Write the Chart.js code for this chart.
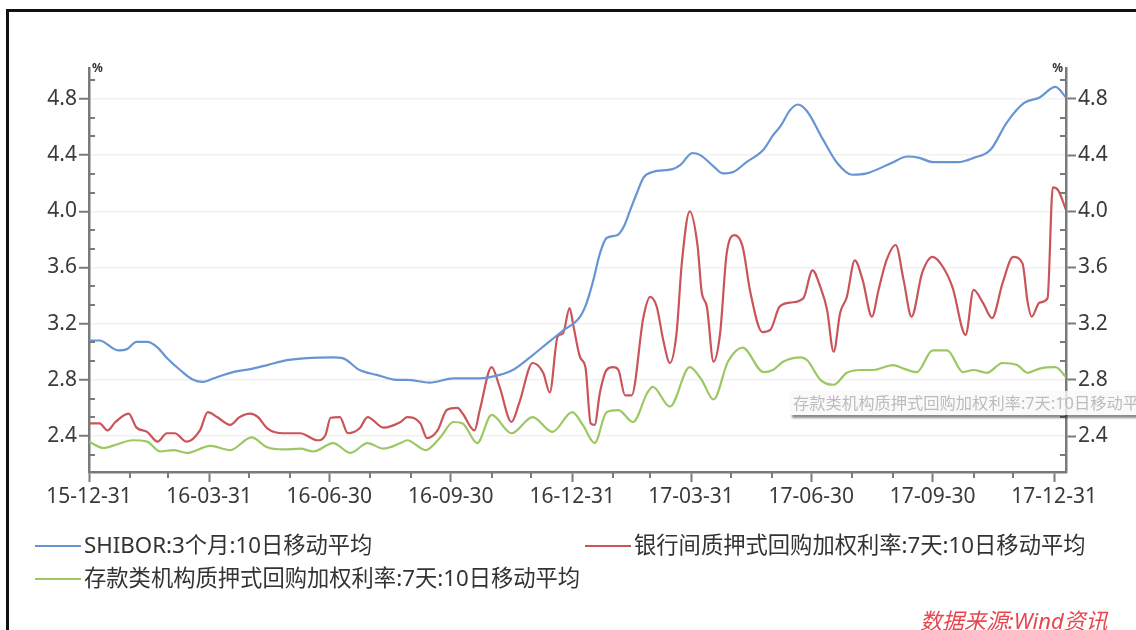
<!DOCTYPE html>
<html><head><meta charset="utf-8">
<script src="https://cdn.jsdelivr.net/npm/chart.js@4"></script>
<style>
html,body{margin:0;padding:0;background:#fff;width:1136px;height:630px;overflow:hidden;font-family:"Noto Sans","Noto Sans CJK SC",sans-serif;}
#wrap{position:relative;width:1136px;height:630px;overflow:hidden;}
#frame{position:absolute;left:6px;top:9px;width:1300px;height:800px;border:3px solid #111;box-sizing:border-box;}
#c{position:absolute;left:0;top:0;}
.leg{position:absolute;font-size:22.3px;color:#333;white-space:nowrap;height:26px;line-height:26px;}
.leg i{display:inline-block;width:46px;height:0;border-top:2.5px solid;vertical-align:middle;margin-right:3px;position:relative;top:-1px;}
#tip{position:absolute;left:790px;top:391px;width:400px;height:24px;background:rgba(249,249,249,0.8);box-shadow:2px 3px 2px rgba(0,0,0,0.45);font-size:16.3px;color:#bcbcbc;line-height:24px;padding-left:3px;white-space:nowrap;}
#src{position:absolute;left:920px;top:603px;font-size:22px;font-style:italic;color:#e8464e;white-space:nowrap;}
</style></head>
<body><div id="wrap"><div id="frame"></div><canvas id="c" width="1136" height="630"></canvas><div id="tip">存款类机构质押式回购加权利率:7天:10日移动平均</div><div id="src">数据来源:Wind资讯</div></div>
<script>
const tickLabels = ['15-12-31','16-03-31','16-06-30','16-09-30','16-12-31','17-03-31','17-06-30','17-09-30','17-12-31'];
const yTicks = [2.4,2.8,3.2,3.6,4.0,4.4,4.8];
const seriesNames = ['SHIBOR:3个月:10日移动平均','银行间质押式回购加权利率:7天:10日移动平均','存款类机构质押式回购加权利率:7天:10日移动平均'];
const seriesColors = ['#6795d4','#c9545a','#9cc864'];

// x = days since 2015-12-31
const shiborDays = [0,8,22,29,36,44,52,59,69,79,86,94,109,124,135,150,165,185,192,205,218,233,241,258,276,296,311,321,334,347,359,372,377,382,387,392,400,405,410,415,420,427,442,448,457,463,473,480,488,498,511,518,524,531,537,544,556,567,578,589,607,620,629,639,658,670,683,695,708,720,732,740];
const shiborValues = [3.08,3.08,3.01,3.02,3.07,3.07,3.03,2.955,2.87,2.80,2.785,2.81,2.855,2.88,2.905,2.94,2.955,2.96,2.955,2.87,2.835,2.80,2.80,2.78,2.81,2.81,2.835,2.87,2.96,3.06,3.15,3.25,3.35,3.51,3.70,3.81,3.83,3.89,4.01,4.13,4.24,4.28,4.30,4.33,4.415,4.40,4.32,4.27,4.28,4.35,4.44,4.54,4.61,4.72,4.76,4.71,4.51,4.34,4.26,4.27,4.34,4.39,4.38,4.35,4.35,4.38,4.44,4.63,4.77,4.81,4.885,4.81];

const repoDays = [0,8,14,20,30,36,44,52,59,65,74,84,90,97,107,114,122,128,135,147,160,173,179,183,190,196,205,211,223,236,241,251,256,264,271,279,283,292,296,305,311,320,326,336,344,349,355,359,364,367,372,376,380,383,387,392,397,401,406,411,420,425,430,435,440,445,449,455,461,464,468,473,478,483,489,495,501,510,516,523,531,541,548,554,559,564,569,574,580,586,593,598,604,611,617,623,631,639,647,654,664,670,677,684,692,700,707,711,714,720,726,730,734,740];
const repoValues = [2.49,2.49,2.44,2.50,2.56,2.46,2.43,2.36,2.42,2.42,2.36,2.44,2.57,2.535,2.48,2.535,2.56,2.535,2.455,2.42,2.42,2.37,2.405,2.53,2.535,2.42,2.455,2.535,2.46,2.50,2.535,2.49,2.385,2.44,2.585,2.60,2.56,2.44,2.585,2.89,2.75,2.50,2.64,2.92,2.85,2.71,3.11,3.13,3.31,3.18,2.96,2.89,2.49,2.48,2.71,2.87,2.89,2.87,2.69,2.69,3.25,3.39,3.32,3.08,2.92,3.13,3.63,4.00,3.75,3.43,3.32,2.93,3.13,3.70,3.83,3.75,3.42,3.14,3.155,3.32,3.35,3.38,3.58,3.46,3.30,3.00,3.28,3.39,3.65,3.51,3.25,3.44,3.65,3.76,3.51,3.25,3.56,3.675,3.60,3.46,3.12,3.44,3.35,3.24,3.49,3.675,3.63,3.35,3.25,3.35,3.38,4.17,4.15,4.01];

const depoDays = [0,11,21,33,44,54,64,74,92,107,123,135,147,160,170,185,198,211,223,236,241,255,266,276,283,294,305,320,336,351,366,374,383,392,401,412,423,427,440,455,464,473,484,495,511,518,526,539,544,554,564,574,584,594,609,617,627,639,650,662,670,680,692,703,711,720,732,740];
const depoValues = [2.36,2.315,2.34,2.37,2.36,2.29,2.30,2.28,2.33,2.30,2.39,2.32,2.305,2.31,2.29,2.35,2.28,2.35,2.31,2.35,2.37,2.30,2.39,2.50,2.49,2.35,2.55,2.42,2.535,2.43,2.57,2.48,2.35,2.57,2.585,2.50,2.71,2.75,2.61,2.89,2.80,2.66,2.93,3.03,2.855,2.87,2.93,2.96,2.94,2.80,2.765,2.85,2.87,2.87,2.905,2.88,2.855,3.01,3.01,2.855,2.87,2.85,2.92,2.905,2.85,2.88,2.89,2.82];

const Y_MIN = 2.144, Y_MAX = 5.02, X_MAX = 740;
const BASE = Date.UTC(2015,11,31);
function dayOf(lbl){const p=lbl.split('-').map(Number);return Math.round((Date.UTC(2000+p[0],p[1]-1,p[2])-BASE)/864e5);}
const tickDays = tickLabels.map(dayOf);
const monthEnds = [];
for(let y=2016;y<=2017;y++)for(let m=0;m<12;m++)monthEnds.push(Math.round((Date.UTC(y,m+1,0)-BASE)/864e5));
const yMinor = [];
for(let k=-1;k<=19;k++){ if(k%3!==0){ const v=2.4+k*0.4/3; if(v>Y_MIN&&v<Y_MAX) yMinor.push(v);} }

function pts(d,v){return d.map((x,i)=>({x:x,y:v[i]}));}

const decor = {
  id:'decor',
  afterDraw(chart){
    const ctx=chart.ctx, xs=chart.scales.x, yl=chart.scales.y, ca=chart.chartArea;
    ctx.save();
    ctx.strokeStyle='#7a7a7a'; ctx.lineWidth=2;
    ctx.beginPath();
    yMinor.forEach(v=>{const py=Math.round(yl.getPixelForValue(v));
      ctx.moveTo(ca.left,py);ctx.lineTo(ca.left+6,py);
      ctx.moveTo(ca.right,py);ctx.lineTo(ca.right-6,py);});
    monthEnds.forEach(d=>{ if(tickDays.indexOf(d)<0){const px=Math.round(xs.getPixelForValue(d));
      ctx.moveTo(px,ca.bottom);ctx.lineTo(px,ca.bottom+6);} });
    ctx.stroke();
    ctx.fillStyle='#333'; ctx.font='bold 12px "Noto Sans"'; ctx.textBaseline='middle';
    ctx.textAlign='left'; ctx.fillText('%',ca.left+3,ca.top+1);
    ctx.textAlign='right'; ctx.fillText('%',ca.right-3,ca.top+1);
    ctx.restore();
  }
};

const yAxisCommon = {
  type:'linear', min:Y_MIN, max:Y_MAX,
  afterBuildTicks(s){s.ticks=yTicks.map(v=>({value:v}));},
  border:{display:true,color:'#7a7a7a',width:2.5},
  ticks:{color:'#3a3a3a',font:{size:21,family:'"Noto Sans"'},padding:2,callback:v=>v.toFixed(1)}
};

new Chart(document.getElementById('c'),{
  type:'line',
  data:{datasets:[
    {label:seriesNames[0],data:pts(shiborDays,shiborValues),borderColor:seriesColors[0]},
    {label:seriesNames[1],data:pts(repoDays,repoValues),borderColor:seriesColors[1]},
    {label:seriesNames[2],data:pts(depoDays,depoValues),borderColor:seriesColors[2]}
  ]},
  options:{
    responsive:false, animation:false, devicePixelRatio:1,
    layout:{padding:{top:68,right:0,bottom:118,left:0}},
    elements:{point:{radius:0},line:{borderWidth:2.2,cubicInterpolationMode:'monotone'}},
    plugins:{legend:{display:false},tooltip:{enabled:false}},
    scales:{
      x:{type:'linear',min:0,max:X_MAX,
        afterBuildTicks(s){s.ticks=tickDays.map(v=>({value:v}));},
        afterFit(s){s.height=40;},
        border:{display:true,color:'#7a7a7a',width:2.5},
        grid:{drawOnChartArea:false,drawTicks:true,tickLength:10,tickColor:'#7a7a7a',tickWidth:2},
        ticks:{autoSkip:false,maxRotation:0,color:'#3a3a3a',font:{size:21,family:'"Noto Sans"'},padding:2,
          callback:(v,i)=>tickLabels[i]}
      },
      y:Object.assign({},yAxisCommon,{position:'left',
        afterFit(s){s.width=89;},
        grid:{color:'#f1f1f1',lineWidth:1.5,drawTicks:true,tickLength:10,tickColor:'#7a7a7a',tickWidth:2}}),
      y2:Object.assign({},yAxisCommon,{position:'right',
        afterFit(s){s.width=70;},
        grid:{drawOnChartArea:false,drawTicks:true,tickLength:10,tickColor:'#7a7a7a',tickWidth:2}})
    }
  },
  plugins:[decor]
});

// legend (HTML)
const legendPos=[[35,532],[585,532],[35,565]];
seriesNames.forEach((n,i)=>{
  const d=document.createElement('div');d.className='leg';
  d.style.left=legendPos[i][0]+'px';d.style.top=legendPos[i][1]+'px';
  const s=document.createElement('i');s.style.borderTopColor=seriesColors[i];
  d.appendChild(s);d.appendChild(document.createTextNode(n));
  document.getElementById('wrap').appendChild(d);
});
</script></body></html>
